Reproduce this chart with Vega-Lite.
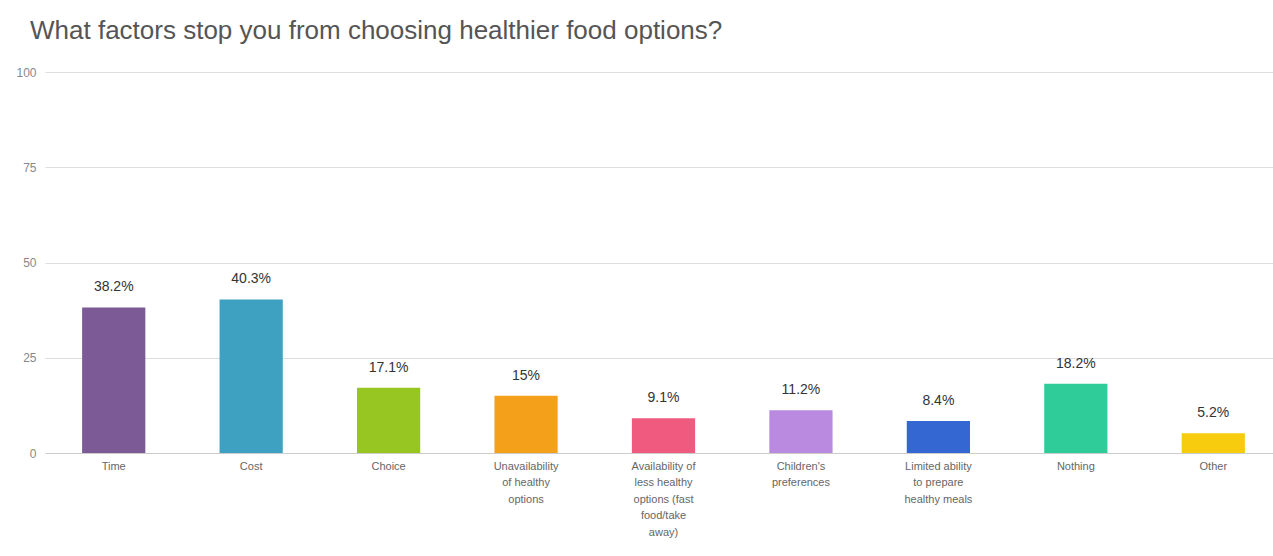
{
  "$schema": "https://vega.github.io/schema/vega-lite/v6.json",
  "autosize": {"type": "none"},
  "width": 1228,
  "height": 381,
  "padding": {"left": 45, "top": 72, "right": 0, "bottom": 103},
  "background": "white",
  "config": {"view": {"stroke": null}},
  "title": {
    "text": "What factors stop you from choosing healthier food options?",
    "anchor": "start",
    "frame": "group",
    "dx": -15,
    "offset": 22,
    "fontSize": 26,
    "font": "Liberation Sans",
    "fontWeight": "normal",
    "color": "#555555"
  },
  "data": {
    "values": [
      {"factor": "Time", "label": "Time", "pct": 38.2, "text": "38.2%"},
      {"factor": "Cost", "label": "Cost", "pct": 40.3, "text": "40.3%"},
      {"factor": "Choice", "label": "Choice", "pct": 17.1, "text": "17.1%"},
      {"factor": "Unavailability of healthy options", "label": "Unavailability|of healthy|options", "pct": 15, "text": "15%"},
      {"factor": "Availability of less healthy options (fast food/take away)", "label": "Availability of|less healthy|options (fast|food/take|away)", "pct": 9.1, "text": "9.1%"},
      {"factor": "Children's preferences", "label": "Children's|preferences", "pct": 11.2, "text": "11.2%"},
      {"factor": "Limited ability to prepare healthy meals", "label": "Limited ability|to prepare|healthy meals", "pct": 8.4, "text": "8.4%"},
      {"factor": "Nothing", "label": "Nothing", "pct": 18.2, "text": "18.2%"},
      {"factor": "Other", "label": "Other", "pct": 5.2, "text": "5.2%"}
    ]
  },
  "encoding": {
    "x": {
      "field": "label",
      "type": "nominal",
      "sort": null,
      "scale": {"paddingInner": 0.54, "paddingOuter": 0.27, "range": [0, 1237]},
      "axis": {
        "title": null,
        "labelAngle": 0,
        "labelExpr": "split(datum.value, '|')",
        "labelFont": "Liberation Sans",
        "labelFontSize": 11,
        "labelColor": "#666666",
        "labelLineHeight": 16.5,
        "labelPadding": 7,
        "labelBaseline": "top",
        "ticks": false,
        "domain": true,
        "domainColor": "#cccccc",
        "grid": false
      }
    },
    "y": {
      "field": "pct",
      "type": "quantitative",
      "scale": {"domain": [0, 100]},
      "axis": {
        "title": null,
        "values": [0, 25, 50, 75, 100],
        "labelFont": "Liberation Sans",
        "labelFontSize": 12,
        "labelColor": "#888888",
        "labelPadding": 9,
        "ticks": false,
        "domain": false,
        "gridColor": "#dddddd",
        "gridWidth": 1
      }
    }
  },
  "layer": [
    {
      "mark": {"type": "bar"},
      "encoding": {
        "color": {
          "field": "label",
          "type": "nominal",
          "sort": null,
          "legend": null,
          "scale": {"range": ["#7b5a96", "#3fa1c2", "#97c623", "#f5a01a", "#f05a7e", "#b98ae0", "#3467d1", "#2fcc9a", "#f7cb0e"]}
        }
      }
    },
    {
      "mark": {"type": "text", "baseline": "bottom", "dy": -13, "font": "Liberation Sans", "fontSize": 14, "color": "#333333"},
      "encoding": {"text": {"field": "text"}}
    }
  ]
}
